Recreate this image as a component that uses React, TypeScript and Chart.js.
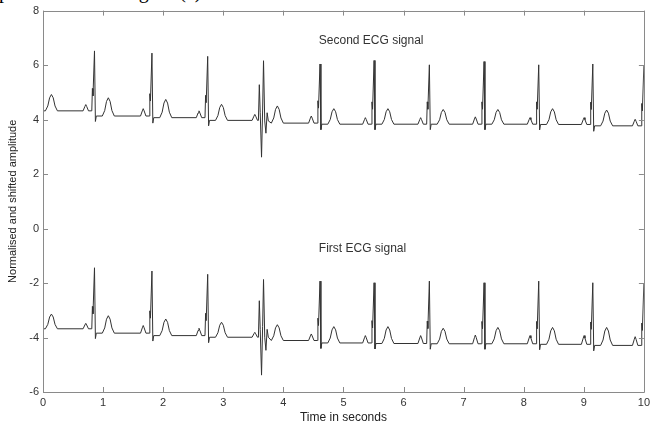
import React, { useEffect, useRef } from "react";
import { Chart, registerables } from "chart.js";

Chart.register(...registerables);

// Axis ticks
const X_TICKS = [0, 1, 2, 3, 4, 5, 6, 7, 8, 9, 10];
const Y_TICKS = [-6, -4, -2, 0, 2, 4, 6, 8];

// R-peak times (s) shared by both recordings
const R_TIMES = [-0.09, 0.857, 1.813, 2.741, 3.67, 4.61, 5.51, 6.43, 7.34, 8.25, 9.15, 10.0];
const NOISY_BEAT = 4;

// Second ECG signal (upper trace)
const TOP_BASE = [4.32, 4.32, 4.13, 4.07, 3.97, 3.87, 3.83, 3.83, 3.83, 3.83, 3.82, 3.77];
const TOP_P = [4.55, 4.55, 4.4, 4.32, 4.19, 4.13, 4.07, 4.07, 4.1, 4.07, 4.07, 4.01];
const TOP_R = [6.5, 6.52, 6.44, 6.32, 6.16, 6.04, 6.17, 6.01, 6.13, 6.01, 6.04, 6.0];
const TOP_T = [4.92, 4.8, 4.74, 4.56, 4.5, 4.4, 4.4, 4.37, 4.37, 4.4, 4.35, 4.3];
const TOP_NOISE = [3.97, 5.28, 4.25, 2.62, 4.35, 6.16, 3.95, 3.5, 4.25, 3.95];

// First ECG signal (lower trace)
const BOT_BASE = [-3.68, -3.68, -3.84, -3.93, -3.99, -4.11, -4.2, -4.22, -4.23, -4.23, -4.25, -4.29];
const BOT_P = [-3.48, -3.48, -3.56, -3.66, -3.81, -3.87, -3.93, -3.93, -3.91, -3.93, -3.93, -3.97];
const BOT_R = [-1.5, -1.44, -1.56, -1.68, -1.87, -1.93, -1.99, -1.93, -1.99, -1.93, -1.99, -2.0];
const BOT_T = [-3.14, -3.2, -3.32, -3.44, -3.53, -3.6, -3.6, -3.66, -3.63, -3.63, -3.63, -3.65];
const BOT_NOISE = [-3.99, -2.65, -3.7, -5.38, -3.6, -1.87, -3.99, -4.47, -3.7, -3.99];

// Beat morphology (time offsets from R, relative shapes)
const P_DT = [-0.19, -0.16, -0.145, -0.13, -0.1];
const P_FRAC = [0, 0.7, 1, 0.7, 0];
const QRS_DT = [-0.045, -0.035, -0.025, 0, 0.015, 0.03];
const QRS_REL = [0, 0.82, 0.55, 0, -0.2, 0];
const T_DT = [0.13, 0.17, 0.2, 0.23, 0.26, 0.29, 0.33];
const T_FRAC = [0, 0.3, 0.8, 1, 0.8, 0.3, 0];
const NOISE_DT = [-0.085, -0.07, -0.055, -0.033, -0.015, 0, 0.02, 0.04, 0.06, 0.08];

const LABELS = ["Second ECG signal", "First ECG signal"];
const LABEL_X = [4.59, 4.59];
const LABEL_Y = [6.9, -0.73];

function buildSignal(base: number[], p: number[], r: number[], t: number[], noise: number[]) {
  const pts: { x: number; y: number }[] = [];
  for (let i = 0; i < R_TIMES.length; i++) {
    const rt = R_TIMES[i];
    const b = base[i];
    const nb = base[Math.min(i + 1, base.length - 1)];
    P_DT.forEach((d, k) => pts.push({ x: rt + d, y: b + (p[i] - b) * P_FRAC[k] }));
    if (i === NOISY_BEAT) {
      NOISE_DT.forEach((d, k) => pts.push({ x: rt + d, y: noise[k] }));
    } else {
      QRS_DT.forEach((d, k) =>
        pts.push({ x: rt + d, y: k === 3 ? r[i] : (k >= 4 ? nb : b) + QRS_REL[k] })
      );
    }
    T_DT.forEach((d, k) => pts.push({ x: rt + d, y: nb + (t[i] - nb) * T_FRAC[k] }));
  }
  return pts;
}

const FONT = "'Liberation Sans', Arial, Helvetica, sans-serif";

const framePlugin = {
  id: "frame",
  afterDatasetsDraw(chart: any) {
    const { ctx, chartArea } = chart;
    const { left, right, top, bottom } = chartArea;
    const xs = chart.scales.x;
    const ys = chart.scales.y;
    ctx.save();
    ctx.strokeStyle = "#8a8a8a";
    ctx.lineWidth = 1;
    ctx.beginPath();
    ctx.rect(Math.round(left) + 0.5, Math.round(top) + 0.5, Math.round(right - left), Math.round(bottom - top));
    ctx.stroke();
    const L = 5;
    ctx.beginPath();
    X_TICKS.forEach((v) => {
      const px = Math.round(xs.getPixelForValue(v)) + 0.5;
      ctx.moveTo(px, bottom);
      ctx.lineTo(px, bottom - L);
      ctx.moveTo(px, top);
      ctx.lineTo(px, top + L);
    });
    Y_TICKS.forEach((v) => {
      const py = Math.round(ys.getPixelForValue(v)) + 0.5;
      ctx.moveTo(left, py);
      ctx.lineTo(left + L, py);
      ctx.moveTo(right, py);
      ctx.lineTo(right - L, py);
    });
    ctx.stroke();
    ctx.fillStyle = "#333";
    ctx.font = `12px ${FONT}`;
    ctx.textAlign = "left";
    ctx.textBaseline = "middle";
    LABELS.forEach((txt, i) => {
      ctx.fillText(txt, xs.getPixelForValue(LABEL_X[i]), ys.getPixelForValue(LABEL_Y[i]));
    });
    ctx.restore();
  },
};

export default function App() {
  const ref = useRef<HTMLCanvasElement | null>(null);
  useEffect(() => {
    if (!ref.current) return;
    const chart = new Chart(ref.current, {
      type: "line",
      data: {
        datasets: [
          {
            label: "Second ECG signal",
            data: buildSignal(TOP_BASE, TOP_P, TOP_R, TOP_T, TOP_NOISE),
            borderColor: "#333",
            borderWidth: 1,
            pointRadius: 0,
            tension: 0,
            fill: false,
          },
          {
            label: "First ECG signal",
            data: buildSignal(BOT_BASE, BOT_P, BOT_R, BOT_T, BOT_NOISE),
            borderColor: "#333",
            borderWidth: 1,
            pointRadius: 0,
            tension: 0,
            fill: false,
          },
        ],
      },
      options: {
        responsive: false,
        animation: false,
        devicePixelRatio: 1,
        parsing: false,
        layout: { padding: { top: 7, right: 7, left: 0, bottom: 0 } },
        plugins: { legend: { display: false }, tooltip: { enabled: false } },
        scales: {
          x: {
            type: "linear",
            min: 0,
            max: 10,
            afterBuildTicks: (s: any) => {
              s.ticks = X_TICKS.map((v) => ({ value: v }));
            },
            afterFit: (s: any) => {
              s.height = 34;
            },
            grid: { display: false, drawTicks: false },
            border: { display: false },
            ticks: { color: "#333", font: { size: 11, family: FONT }, padding: 4, maxRotation: 0 },
            title: {
              display: true,
              text: "Time in seconds",
              color: "#222",
              font: { size: 12, family: FONT },
              padding: { top: 1, bottom: 1 },
            },
          },
          y: {
            type: "linear",
            min: -6,
            max: 8,
            afterBuildTicks: (s: any) => {
              s.ticks = Y_TICKS.map((v) => ({ value: v }));
            },
            afterFit: (s: any) => {
              s.width = 43;
            },
            grid: { display: false, drawTicks: false },
            border: { display: false },
            ticks: { color: "#333", font: { size: 11, family: FONT }, padding: 4 },
            title: {
              display: true,
              text: "Normalised and shifted amplitude",
              color: "#222",
              font: { size: 11, family: FONT },
              padding: { top: 6, bottom: 6 },
            },
          },
        },
      },
      plugins: [framePlugin],
    });
    return () => chart.destroy();
  }, []);

  return (
    <div style={{ position: "absolute", left: 0, top: 0, width: 654, height: 426, overflow: "hidden", background: "#fff" }}>
      <span
        style={{
          position: "absolute",
          left: -1,
          top: -19,
          fontFamily: "'Liberation Serif', 'Times New Roman', serif",
          fontSize: 20,
          lineHeight: "20px",
          color: "#000",
          whiteSpace: "nowrap",
        }}
      >
        p
      </span>
      <span
        style={{
          position: "absolute",
          left: 122,
          top: -19,
          fontFamily: "'Liberation Serif', 'Times New Roman', serif",
          fontSize: 20,
          lineHeight: "20px",
          color: "#000",
          whiteSpace: "nowrap",
        }}
      >
        Figure (a)
      </span>
      <canvas ref={ref} width={654} height={426} style={{ position: "absolute", left: 0, top: 0 }} />
    </div>
  );
}
